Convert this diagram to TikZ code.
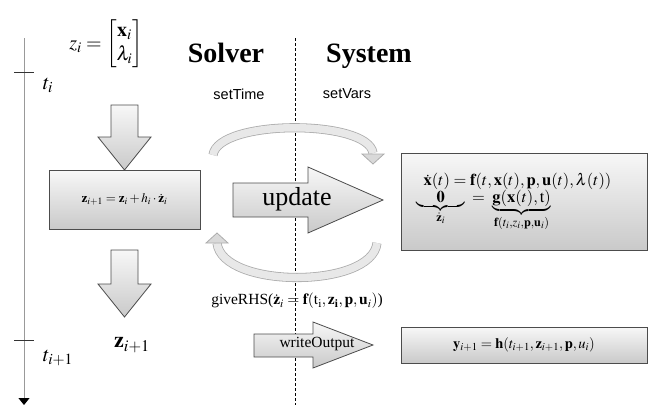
\documentclass[tikz,border=0pt]{standalone}
\usepackage{amsmath}
\usepackage{mathptmx}
\usepackage{fontspec}
\setmainfont{Liberation Serif}
\setsansfont{Liberation Sans}
\usetikzlibrary{arrows.meta}

\tikzset{
  blk/.style={draw=black!70, line width=0.8pt, top color=gray!6, bottom color=gray!42},
  band/.style={draw=gray!65, line width=0.8pt, double=gray!18, double distance=7.5pt},
  bandhead/.style={draw=gray!65, line width=0.8pt, fill=gray!30},
  title/.style={font=\fontsize{28}{32}\selectfont\bfseries},
  call/.style={font=\sffamily\fontsize{14.5}{17}\selectfont},
}

\begin{document}
\begin{tikzpicture}[x=1pt,y=-1pt]
\useasboundingbox (0,0) rectangle (655,405);

% time axis
\draw[gray!80, line width=1pt, -{Triangle[width=11pt,length=7pt,color=black]}] (24,38) -- (24,405);
\draw[black!80, line width=0.8pt] (14,72) -- (34,72);
\draw[black!80, line width=0.8pt] (14,340) -- (34,340);
\node (ti) at (48,85) {\fontsize{21}{24}\selectfont$t_i$};
\node (tnext) at (58,358) {\fontsize{21}{24}\selectfont$t_{i+1}$};
\node (zi) at (106,44) {\fontsize{20}{24}\selectfont
  $z_i=\begin{bmatrix}\mathbf{x}_i\\ \lambda_i\end{bmatrix}$};

% solver / system split
\draw[dashed, dash pattern=on 3pt off 2pt, line width=0.6pt] (295,38) -- (295,405);
\node[title, anchor=base] (solver) at (226,62) {Solver};
\node[title, anchor=base] (system) at (369,62) {System};
\node[call] (settime) at (239,94) {setTime};
\node[call] (setvars) at (347,94) {setVars};

% integration step
\shade[blk] (111,105) -- (138,105) -- (138,137) -- (151,137) -- (124.5,170) -- (98,137) -- (111,137) -- cycle;
\node[blk, minimum width=151pt, minimum height=59pt, inner sep=0pt] (stepbox) at (124.5,199.5)
  {\fontsize{13}{15}\selectfont$\mathbf{z}_{i+1}=\mathbf{z}_i+h_i\cdot\dot{\mathbf{z}}_i$};
\shade[blk] (111,250) -- (138,250) -- (138,284) -- (151,284) -- (124.5,317) -- (98,284) -- (111,284) -- cycle;
\node (znext) at (132,345) {\fontsize{22}{26}\selectfont$\mathbf{z}_{i+1}$};

% model side
\node[blk, minimum width=246pt, minimum height=97pt, inner sep=0pt] (sysbox) at (524,201.5)
  {\fontsize{16.5}{19}\selectfont$\begin{array}{@{}l@{}}
   \hspace{7pt}\dot{\mathbf{x}}(t)=\mathbf{f}(t,\mathbf{x}(t),\mathbf{p},\mathbf{u}(t),\lambda(t))\\[-2pt]
   \underbrace{\hspace{20pt}\mathbf{0}\hspace{20pt}}_{\dot{\mathbf{z}}_i}\;=\;\underbrace{\mathbf{g}(\mathbf{x}(t),\mathrm{t})}_{\mathbf{f}(t_i,z_i,\mathbf{p},\mathbf{u}_i)}
   \end{array}\hspace{20pt}$};
\node[blk, minimum width=246pt, minimum height=36pt, inner sep=0pt] (outbox) at (524,345)
  {\fontsize{14.5}{17}\selectfont$\mathbf{y}_{i+1}=\mathbf{h}(t_{i+1},\mathbf{z}_{i+1},\mathbf{p},u_i)$};

% calls between both sides
\coordinate (setout) at (213,155);
\coordinate (setin) at (373,153);
\coordinate (rhsout) at (377,243);
\coordinate (rhsin) at (217,243);
\draw[band] (setout) .. controls (218,119) and (368,119) .. (setin);
\draw[bandhead] (362,154) -- (384,154) -- (373,164) -- cycle;
\draw[band] (rhsout) .. controls (372,289) and (222,289) .. (rhsin);
\draw[bandhead] (206,243) -- (228,243) -- (217,233) -- cycle;

\shade[blk] (233,183) -- (308,183) -- (308,167) -- (383,200) -- (308,233) -- (308,217) -- (233,217) -- cycle;
\node (update) at (297,199) {\fontsize{26}{30}\selectfont update};
\node (giverhs) at (297,301) {\fontsize{15.5}{18}\selectfont
  giveRHS($\dot{\mathbf{z}}_i=\mathbf{f}(\mathrm{t_i},\mathbf{z_i},\mathbf{p},\mathbf{u}_i)$)};
\shade[blk] (254,334) -- (313,334) -- (313,322) -- (373,345) -- (313,368) -- (313,357) -- (254,357) -- cycle;
\node (writeout) at (317,344) {\fontsize{15.5}{18}\selectfont writeOutput};
\end{tikzpicture}
\end{document}
